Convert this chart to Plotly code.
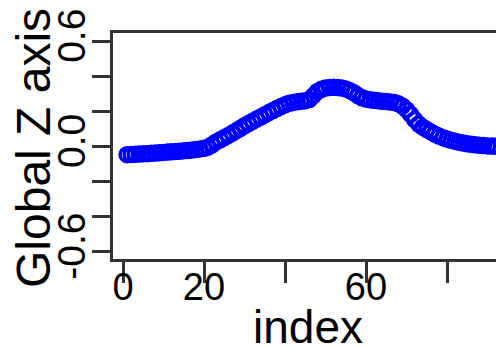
import plotly.graph_objects as go

# data
index = list(range(1, 93))
global_z = [
    -0.045, -0.044, -0.043, -0.041, -0.040, -0.039, -0.037, -0.036, -0.034, -0.032,
    -0.030, -0.029, -0.027, -0.025, -0.023, -0.021, -0.018, -0.015, -0.012, -0.008,
    -0.002, 0.012, 0.028, 0.040, 0.052, 0.065, 0.078, 0.092, 0.106, 0.120,
    0.133, 0.145, 0.158, 0.170, 0.183, 0.195, 0.207, 0.218, 0.230, 0.240,
    0.248, 0.253, 0.257, 0.260, 0.263, 0.270, 0.292, 0.315, 0.328, 0.335,
    0.338, 0.339, 0.338, 0.335, 0.330, 0.320, 0.308, 0.292, 0.280, 0.272,
    0.268, 0.265, 0.262, 0.260, 0.258, 0.255, 0.252, 0.245, 0.232, 0.212,
    0.185, 0.155, 0.130, 0.112, 0.098, 0.085, 0.072, 0.061, 0.052, 0.044,
    0.037, 0.031, 0.026, 0.021, 0.017, 0.014, 0.011, 0.009, 0.007, 0.005,
    0.004, 0.003,
]
x_tickvals = [0, 20, 40, 60, 80]
x_ticktext = ["0", "20", "", "60", ""]
y_tickvals = [-0.6, -0.4, -0.2, 0.0, 0.2, 0.4, 0.6]
y_ticktext = ["-0.6", "", "", "0.0", "", "", "0.6"]
x_title = "index"
y_title = "Global Z axis"

X_RANGE = [-2.47, 92.1]
Y_RANGE = [-0.64, 0.649]
AX = "#333333"
FONT = "Liberation Sans, Arial, sans-serif"

fig = go.Figure(
    go.Scatter(
        x=index, y=global_z, mode="markers",
        marker=dict(symbol="circle-open", size=14, color="#0000ff",
                    line=dict(width=3.5)),
        cliponaxis=True,
    )
)

fig.update_layout(
    width=496, height=348,
    margin=dict(l=113, r=0, t=33, b=89, pad=0),
    paper_bgcolor="white", plot_bgcolor="white",
    showlegend=False,
    font=dict(family=FONT, color="black"),
    xaxis=dict(
        range=X_RANGE, tickvals=x_tickvals, ticktext=x_ticktext,
        ticks="outside", ticklen=21, tickwidth=2.5, tickcolor=AX,
        ticklabelstandoff=-28,
        showline=True, linecolor=AX, linewidth=2.5, mirror=True,
        showgrid=False, zeroline=False,
        tickfont=dict(size=38), automargin=False,
    ),
    yaxis=dict(
        range=Y_RANGE, tickvals=y_tickvals, ticktext=y_ticktext,
        tickangle=-90,
        ticks="outside", ticklen=18, tickwidth=2.5, tickcolor=AX,
        ticklabelstandoff=-8,
        showline=True, linecolor=AX, linewidth=2.5, mirror=False,
        showgrid=False, zeroline=False,
        tickfont=dict(size=39), automargin=False,
    ),
    annotations=[
        dict(text=x_title, xref="paper", yref="paper", x=0.508, y=-0.30,
             xanchor="center", yanchor="middle", showarrow=False,
             font=dict(size=46)),
        dict(text=y_title, xref="paper", yref="paper", x=-0.209, y=0.491,
             xanchor="center", yanchor="middle", showarrow=False,
             textangle=-90, font=dict(size=48)),
    ],
)

fig.write_html("out.html")
